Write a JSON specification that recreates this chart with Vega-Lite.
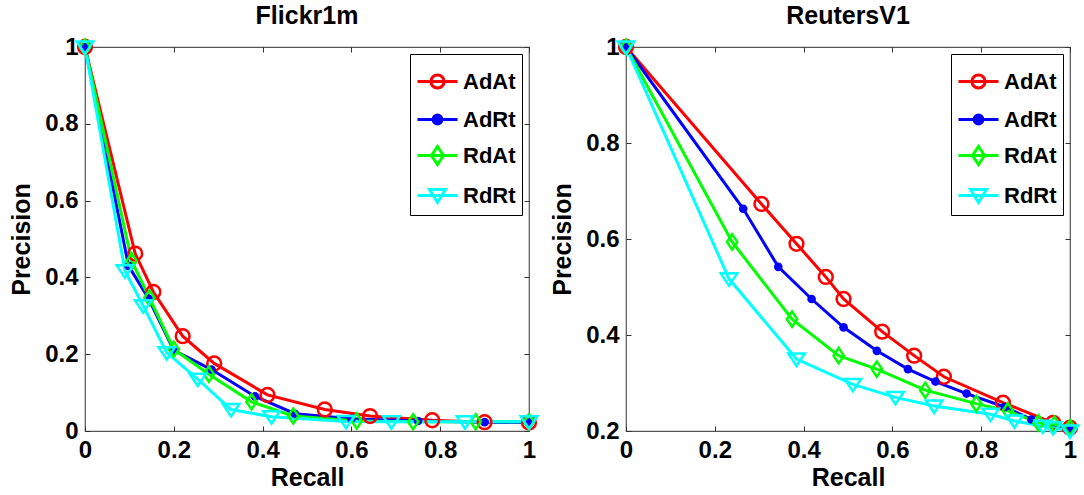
{
  "$schema": "https://vega.github.io/schema/vega-lite/v6.json",
  "padding": {"left": 9, "top": 3, "right": 5, "bottom": 5},
  "bounds": "flush",
  "spacing": 97,
  "background": "white",
  "config": {
    "view": {"stroke": "#555555", "strokeWidth": 1.2},
    "font": "Liberation Sans",
    "title": {"font": "Liberation Sans", "fontSize": 25, "fontWeight": "bold", "color": "black", "offset": 5},
    "axis": {
      "labelFont": "Liberation Sans", "labelFontSize": 24, "labelFontWeight": "bold", "labelColor": "black",
      "titleFont": "Liberation Sans", "titleFontSize": 25, "titleFontWeight": "bold", "titleColor": "black",
      "domain": false, "grid": false, "tickColor": "#333333", "tickSize": -5, "tickWidth": 1, "labelPadding": 12,
      "labelFlush": false
    },
    "legend": {
      "orient": "top-right", "offset": 7, "fillColor": "white", "strokeColor": "black", "padding": 6,
      "labelFont": "Liberation Sans", "labelFontSize": 22, "labelFontWeight": "bold", "labelColor": "black",
      "symbolSize": 1600, "rowPadding": 3, "labelOffset": 4, "symbolStrokeWidth": 3
    }
  },
  "resolve": {
    "scale": {"color": "independent"},
    "legend": {"color": "independent"}
  },
  "datasets": {
    "flickr": [
      {"series": "AdAt", "recall": 0, "precision": 1},
      {"series": "AdAt", "recall": 0.113, "precision": 0.462},
      {"series": "AdAt", "recall": 0.154, "precision": 0.362},
      {"series": "AdAt", "recall": 0.22, "precision": 0.247},
      {"series": "AdAt", "recall": 0.291, "precision": 0.176},
      {"series": "AdAt", "recall": 0.411, "precision": 0.094},
      {"series": "AdAt", "recall": 0.54, "precision": 0.056},
      {"series": "AdAt", "recall": 0.642, "precision": 0.039},
      {"series": "AdAt", "recall": 0.782, "precision": 0.028},
      {"series": "AdAt", "recall": 0.9, "precision": 0.023},
      {"series": "AdAt", "recall": 1, "precision": 0.022},
      {"series": "AdRt", "recall": 0, "precision": 1},
      {"series": "AdRt", "recall": 0.098, "precision": 0.43},
      {"series": "AdRt", "recall": 0.143, "precision": 0.345},
      {"series": "AdRt", "recall": 0.2, "precision": 0.21},
      {"series": "AdRt", "recall": 0.285, "precision": 0.16},
      {"series": "AdRt", "recall": 0.383, "precision": 0.09},
      {"series": "AdRt", "recall": 0.473, "precision": 0.045},
      {"series": "AdRt", "recall": 0.6, "precision": 0.032},
      {"series": "AdRt", "recall": 0.75, "precision": 0.026},
      {"series": "AdRt", "recall": 0.9, "precision": 0.023},
      {"series": "AdRt", "recall": 1, "precision": 0.022},
      {"series": "RdAt", "recall": 0, "precision": 1},
      {"series": "RdAt", "recall": 0.105, "precision": 0.443},
      {"series": "RdAt", "recall": 0.145, "precision": 0.347},
      {"series": "RdAt", "recall": 0.2, "precision": 0.213},
      {"series": "RdAt", "recall": 0.279, "precision": 0.148},
      {"series": "RdAt", "recall": 0.375, "precision": 0.076},
      {"series": "RdAt", "recall": 0.469, "precision": 0.039},
      {"series": "RdAt", "recall": 0.612, "precision": 0.026},
      {"series": "RdAt", "recall": 0.739, "precision": 0.024},
      {"series": "RdAt", "recall": 0.88, "precision": 0.024},
      {"series": "RdAt", "recall": 1, "precision": 0.024},
      {"series": "RdRt", "recall": 0, "precision": 1},
      {"series": "RdRt", "recall": 0.09, "precision": 0.417},
      {"series": "RdRt", "recall": 0.131, "precision": 0.326},
      {"series": "RdRt", "recall": 0.184, "precision": 0.204},
      {"series": "RdRt", "recall": 0.254, "precision": 0.135},
      {"series": "RdRt", "recall": 0.329, "precision": 0.056},
      {"series": "RdRt", "recall": 0.42, "precision": 0.037},
      {"series": "RdRt", "recall": 0.588, "precision": 0.025},
      {"series": "RdRt", "recall": 0.69, "precision": 0.024},
      {"series": "RdRt", "recall": 0.856, "precision": 0.024},
      {"series": "RdRt", "recall": 1, "precision": 0.024}
    ],
    "reuters": [
      {"series": "AdAt", "recall": 0, "precision": 1},
      {"series": "AdAt", "recall": 0.305, "precision": 0.673},
      {"series": "AdAt", "recall": 0.384, "precision": 0.59},
      {"series": "AdAt", "recall": 0.45, "precision": 0.521},
      {"series": "AdAt", "recall": 0.49, "precision": 0.475},
      {"series": "AdAt", "recall": 0.577, "precision": 0.407},
      {"series": "AdAt", "recall": 0.649, "precision": 0.357},
      {"series": "AdAt", "recall": 0.716, "precision": 0.313},
      {"series": "AdAt", "recall": 0.849, "precision": 0.259},
      {"series": "AdAt", "recall": 0.962, "precision": 0.217},
      {"series": "AdAt", "recall": 1, "precision": 0.207},
      {"series": "AdRt", "recall": 0, "precision": 1},
      {"series": "AdRt", "recall": 0.264, "precision": 0.663},
      {"series": "AdRt", "recall": 0.343, "precision": 0.542},
      {"series": "AdRt", "recall": 0.418, "precision": 0.475},
      {"series": "AdRt", "recall": 0.49, "precision": 0.416},
      {"series": "AdRt", "recall": 0.565, "precision": 0.367},
      {"series": "AdRt", "recall": 0.635, "precision": 0.329},
      {"series": "AdRt", "recall": 0.697, "precision": 0.303},
      {"series": "AdRt", "recall": 0.767, "precision": 0.278},
      {"series": "AdRt", "recall": 0.853, "precision": 0.25},
      {"series": "AdRt", "recall": 0.913, "precision": 0.224},
      {"series": "AdRt", "recall": 1, "precision": 0.203},
      {"series": "RdAt", "recall": 0, "precision": 1},
      {"series": "RdAt", "recall": 0.239, "precision": 0.594},
      {"series": "RdAt", "recall": 0.374, "precision": 0.433},
      {"series": "RdAt", "recall": 0.479, "precision": 0.357},
      {"series": "RdAt", "recall": 0.565, "precision": 0.329},
      {"series": "RdAt", "recall": 0.674, "precision": 0.285},
      {"series": "RdAt", "recall": 0.789, "precision": 0.257},
      {"series": "RdAt", "recall": 0.86, "precision": 0.242},
      {"series": "RdAt", "recall": 0.929, "precision": 0.217},
      {"series": "RdAt", "recall": 0.965, "precision": 0.214},
      {"series": "RdAt", "recall": 1, "precision": 0.207},
      {"series": "RdRt", "recall": 0, "precision": 1},
      {"series": "RdRt", "recall": 0.232, "precision": 0.517},
      {"series": "RdRt", "recall": 0.384, "precision": 0.35},
      {"series": "RdRt", "recall": 0.511, "precision": 0.297},
      {"series": "RdRt", "recall": 0.607, "precision": 0.27},
      {"series": "RdRt", "recall": 0.694, "precision": 0.252},
      {"series": "RdRt", "recall": 0.821, "precision": 0.235},
      {"series": "RdRt", "recall": 0.875, "precision": 0.221},
      {"series": "RdRt", "recall": 0.939, "precision": 0.21},
      {"series": "RdRt", "recall": 0.962, "precision": 0.207},
      {"series": "RdRt", "recall": 1, "precision": 0.2}
    ]
  },
  "hconcat": [
    {
      "width": 444, "height": 384,
      "title": "Flickr1m",
      "data": {"name": "flickr"},
      "layer": [
        {
          "mark": {"type": "line", "strokeWidth": 3},
          "encoding": {
            "x": {"field": "recall", "type": "quantitative", "scale": {"domain": [0, 1], "nice": false},
                  "axis": {"title": "Recall", "values": [0, 0.2, 0.4, 0.6, 0.8, 1], "format": "~g", "titlePadding": 3}},
            "y": {"field": "precision", "type": "quantitative", "scale": {"domain": [0, 1], "nice": false, "zero": false},
                  "axis": {"title": "Precision", "values": [0, 0.2, 0.4, 0.6, 0.8, 1], "format": "~g", "titlePadding": 10}},
            "color": {"field": "series", "type": "nominal",
                      "scale": {"domain": ["AdAt", "AdRt", "RdAt", "RdRt"], "range": ["#ff0000", "#0000ff", "#00ff00", "#00ffff"]},
                      "legend": {
                        "title": null,
                        "encode": {"symbols": {"update": {
                          "shape": {"signal": "datum.value === 'AdAt' ? 'M-1,0H1M-0.33,0A0.33,0.33 0 1,0 0.33,0A0.33,0.33 0 1,0 -0.33,0' : datum.value === 'AdRt' ? 'M-1,0H1M-0.22,0A0.22,0.22 0 1,0 0.22,0A0.22,0.22 0 1,0 -0.22,0' : datum.value === 'RdAt' ? 'M-1,0H1M0,-0.45L0.3,0L0,0.45L-0.3,0Z' : 'M-1,0H1M-0.4,-0.3L0.4,-0.3L0,0.35Z'"},
                          "stroke": {"signal": "datum.value === 'AdAt' ? '#ff0000' : datum.value === 'AdRt' ? '#0000ff' : datum.value === 'RdAt' ? '#00ff00' : '#00ffff'"},
                          "fill": {"signal": "datum.value === 'AdRt' ? '#0000ff' : 'transparent'"},
                          "strokeWidth": {"value": 3},
                          "size": {"value": 1600}
                        }}}
                      }}
          }
        },
        {
          "transform": [{"filter": "datum.series === 'AdAt'"}],
          "mark": {"type": "point", "shape": "circle", "filled": false, "color": "#ff0000", "size": 190, "strokeWidth": 2.5, "opacity": 1},
          "encoding": {
            "x": {"field": "recall", "type": "quantitative", "scale": {"domain": [0, 1], "nice": false},
                  "axis": {"orient": "top", "labels": false, "title": null, "values": [0, 0.2, 0.4, 0.6, 0.8, 1]}},
            "y": {"field": "precision", "type": "quantitative", "scale": {"domain": [0, 1], "nice": false, "zero": false},
                  "axis": {"orient": "right", "labels": false, "title": null, "values": [0, 0.2, 0.4, 0.6, 0.8, 1]}}
          }
        },
        {
          "transform": [{"filter": "datum.series === 'AdRt'"}],
          "mark": {"type": "point", "shape": "circle", "filled": true, "color": "#0000ff", "size": 75, "opacity": 1},
          "encoding": {
            "x": {"field": "recall", "type": "quantitative", "axis": null},
            "y": {"field": "precision", "type": "quantitative", "axis": null}
          }
        },
        {
          "transform": [{"filter": "datum.series === 'RdAt'"}],
          "mark": {"type": "point", "shape": "M0,-1.1L0.75,0L0,1.1L-0.75,0Z", "filled": false, "color": "#00ff00", "size": 190, "strokeWidth": 2.5, "opacity": 1},
          "encoding": {
            "x": {"field": "recall", "type": "quantitative", "axis": null},
            "y": {"field": "precision", "type": "quantitative", "axis": null}
          }
        },
        {
          "transform": [{"filter": "datum.series === 'RdRt'"}],
          "mark": {"type": "point", "shape": "M-1.2,-0.8L1.2,-0.8L0,1Z", "filled": false, "color": "#00ffff", "size": 190, "strokeWidth": 2.5, "opacity": 1},
          "encoding": {
            "x": {"field": "recall", "type": "quantitative", "axis": null},
            "y": {"field": "precision", "type": "quantitative", "axis": null}
          }
        }
      ],
      "resolve": {"axis": {"x": "independent", "y": "independent"}}
    },
    {
      "width": 444, "height": 384,
      "title": "ReutersV1",
      "data": {"name": "reuters"},
      "layer": [
        {
          "mark": {"type": "line", "strokeWidth": 3},
          "encoding": {
            "x": {"field": "recall", "type": "quantitative", "scale": {"domain": [0, 1], "nice": false},
                  "axis": {"title": "Recall", "values": [0, 0.2, 0.4, 0.6, 0.8, 1], "format": "~g", "titlePadding": 3}},
            "y": {"field": "precision", "type": "quantitative", "scale": {"domain": [0.2, 1], "nice": false, "zero": false},
                  "axis": {"title": "Precision", "values": [0.2, 0.4, 0.6, 0.8, 1], "format": "~g", "titlePadding": 10}},
            "color": {"field": "series", "type": "nominal",
                      "scale": {"domain": ["AdAt", "AdRt", "RdAt", "RdRt"], "range": ["#ff0000", "#0000ff", "#00ff00", "#00ffff"]},
                      "legend": {
                        "title": null,
                        "encode": {"symbols": {"update": {
                          "shape": {"signal": "datum.value === 'AdAt' ? 'M-1,0H1M-0.33,0A0.33,0.33 0 1,0 0.33,0A0.33,0.33 0 1,0 -0.33,0' : datum.value === 'AdRt' ? 'M-1,0H1M-0.22,0A0.22,0.22 0 1,0 0.22,0A0.22,0.22 0 1,0 -0.22,0' : datum.value === 'RdAt' ? 'M-1,0H1M0,-0.45L0.3,0L0,0.45L-0.3,0Z' : 'M-1,0H1M-0.4,-0.3L0.4,-0.3L0,0.35Z'"},
                          "stroke": {"signal": "datum.value === 'AdAt' ? '#ff0000' : datum.value === 'AdRt' ? '#0000ff' : datum.value === 'RdAt' ? '#00ff00' : '#00ffff'"},
                          "fill": {"signal": "datum.value === 'AdRt' ? '#0000ff' : 'transparent'"},
                          "strokeWidth": {"value": 3},
                          "size": {"value": 1600}
                        }}}
                      }}
          }
        },
        {
          "transform": [{"filter": "datum.series === 'AdAt'"}],
          "mark": {"type": "point", "shape": "circle", "filled": false, "color": "#ff0000", "size": 190, "strokeWidth": 2.5, "opacity": 1},
          "encoding": {
            "x": {"field": "recall", "type": "quantitative", "scale": {"domain": [0, 1], "nice": false},
                  "axis": {"orient": "top", "labels": false, "title": null, "values": [0, 0.2, 0.4, 0.6, 0.8, 1]}},
            "y": {"field": "precision", "type": "quantitative", "scale": {"domain": [0.2, 1], "nice": false, "zero": false},
                  "axis": {"orient": "right", "labels": false, "title": null, "values": [0.2, 0.4, 0.6, 0.8, 1]}}
          }
        },
        {
          "transform": [{"filter": "datum.series === 'AdRt'"}],
          "mark": {"type": "point", "shape": "circle", "filled": true, "color": "#0000ff", "size": 75, "opacity": 1},
          "encoding": {
            "x": {"field": "recall", "type": "quantitative", "axis": null},
            "y": {"field": "precision", "type": "quantitative", "axis": null}
          }
        },
        {
          "transform": [{"filter": "datum.series === 'RdAt'"}],
          "mark": {"type": "point", "shape": "M0,-1.1L0.75,0L0,1.1L-0.75,0Z", "filled": false, "color": "#00ff00", "size": 190, "strokeWidth": 2.5, "opacity": 1},
          "encoding": {
            "x": {"field": "recall", "type": "quantitative", "axis": null},
            "y": {"field": "precision", "type": "quantitative", "axis": null}
          }
        },
        {
          "transform": [{"filter": "datum.series === 'RdRt'"}],
          "mark": {"type": "point", "shape": "M-1.2,-0.8L1.2,-0.8L0,1Z", "filled": false, "color": "#00ffff", "size": 190, "strokeWidth": 2.5, "opacity": 1},
          "encoding": {
            "x": {"field": "recall", "type": "quantitative", "axis": null},
            "y": {"field": "precision", "type": "quantitative", "axis": null}
          }
        }
      ],
      "resolve": {"axis": {"x": "independent", "y": "independent"}}
    }
  ]
}
